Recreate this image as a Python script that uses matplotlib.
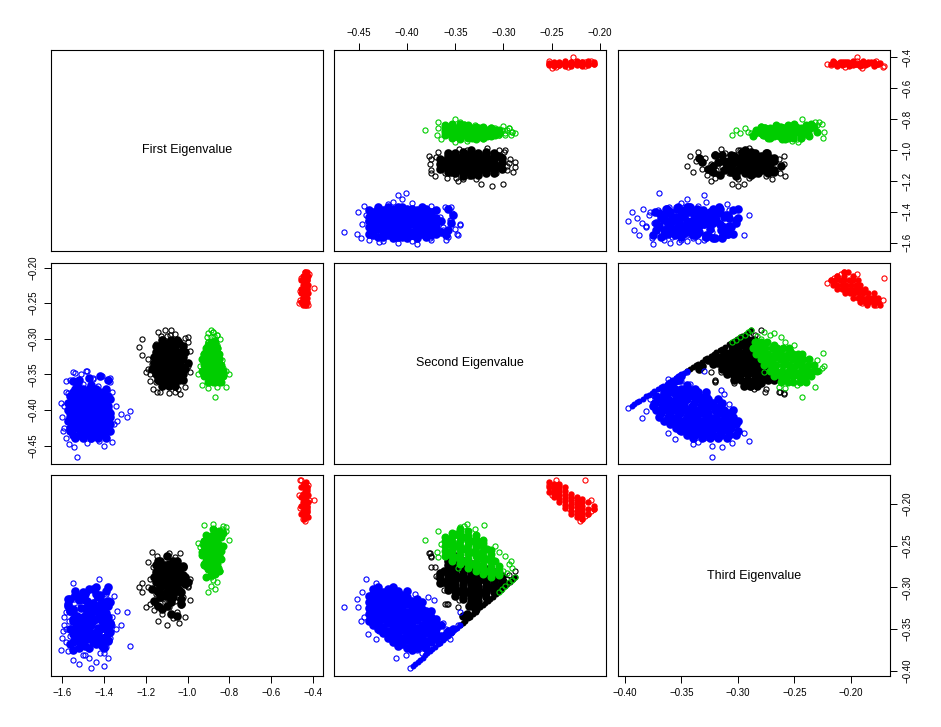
import numpy as np
import matplotlib
matplotlib.use('Agg')
import matplotlib.pyplot as plt

plt.rcParams['font.family'] = ['Liberation Sans', 'DejaVu Sans']

# points as (first, second, third) eigenvalue
# *_core stands in for the solid overplotted part of each cloud, drawn filled
blue_core = [
    (-1.50, -0.440, -0.340), (-1.43, -0.440, -0.325), (-1.54, -0.440, -0.310),
    (-1.47, -0.435, -0.345), (-1.40, -0.435, -0.330), (-1.52, -0.435, -0.315), (-1.45, -0.435, -0.302),
    (-1.56, -0.430, -0.350), (-1.41, -0.430, -0.333), (-1.48, -0.430, -0.316), (-1.38, -0.430, -0.300),
    (-1.44, -0.425, -0.355), (-1.53, -0.425, -0.338), (-1.39, -0.425, -0.322), (-1.50, -0.425, -0.306),
    (-1.46, -0.420, -0.360), (-1.37, -0.420, -0.343), (-1.55, -0.420, -0.326), (-1.42, -0.420, -0.309),
    (-1.52, -0.415, -0.365), (-1.40, -0.415, -0.348), (-1.47, -0.415, -0.331), (-1.57, -0.415, -0.314), (-1.44, -0.415, -0.300),
    (-1.41, -0.410, -0.370), (-1.50, -0.410, -0.353), (-1.38, -0.410, -0.336), (-1.45, -0.410, -0.319), (-1.54, -0.410, -0.304),
    (-1.56, -0.405, -0.368), (-1.43, -0.405, -0.351), (-1.49, -0.405, -0.334), (-1.37, -0.405, -0.317),
    (-1.47, -0.400, -0.372), (-1.38, -0.400, -0.363), (-1.53, -0.400, -0.346), (-1.42, -0.400, -0.329), (-1.50, -0.400, -0.312),
    (-1.55, -0.395, -0.375), (-1.44, -0.395, -0.358), (-1.39, -0.395, -0.341), (-1.48, -0.395, -0.324),
    (-1.40, -0.390, -0.373), (-1.51, -0.390, -0.356), (-1.46, -0.390, -0.339), (-1.57, -0.390, -0.322),
    (-1.49, -0.385, -0.370), (-1.37, -0.385, -0.353), (-1.54, -0.385, -0.336), (-1.43, -0.385, -0.326),
    (-1.52, -0.380, -0.372), (-1.45, -0.380, -0.355), (-1.41, -0.380, -0.340), (-1.56, -0.380, -0.328),
    (-1.42, -0.375, -0.365), (-1.55, -0.375, -0.350), (-1.48, -0.375, -0.335),
    (-1.50, -0.370, -0.362), (-1.39, -0.370, -0.350), (-1.44, -0.370, -0.338),
    (-1.46, -0.365, -0.358), (-1.53, -0.365, -0.345),
    (-1.46, -0.440, -0.332), (-1.39, -0.440, -0.318),
    (-1.55, -0.435, -0.338), (-1.43, -0.435, -0.322), (-1.49, -0.435, -0.308),
    (-1.37, -0.430, -0.342), (-1.51, -0.430, -0.325), (-1.44, -0.430, -0.308),
    (-1.41, -0.425, -0.347), (-1.48, -0.425, -0.330), (-1.56, -0.425, -0.314),
    (-1.51, -0.420, -0.352), (-1.42, -0.420, -0.335), (-1.39, -0.420, -0.318), (-1.47, -0.420, -0.302),
    (-1.45, -0.415, -0.357), (-1.55, -0.415, -0.340), (-1.38, -0.415, -0.322), (-1.50, -0.415, -0.307),
    (-1.48, -0.410, -0.362), (-1.37, -0.410, -0.345), (-1.56, -0.410, -0.328), (-1.42, -0.410, -0.311),
    (-1.40, -0.405, -0.360), (-1.52, -0.405, -0.343), (-1.46, -0.405, -0.326), (-1.54, -0.405, -0.309),
    (-1.44, -0.400, -0.355), (-1.49, -0.400, -0.338), (-1.57, -0.400, -0.320), (-1.39, -0.400, -0.304),
    (-1.42, -0.395, -0.367), (-1.53, -0.395, -0.350), (-1.47, -0.395, -0.333), (-1.38, -0.395, -0.316),
    (-1.55, -0.390, -0.365), (-1.43, -0.390, -0.348), (-1.39, -0.390, -0.331), (-1.50, -0.390, -0.314),
    (-1.41, -0.385, -0.362), (-1.52, -0.385, -0.345), (-1.46, -0.385, -0.331), (-1.38, -0.385, -0.318),
    (-1.38, -0.380, -0.364), (-1.50, -0.380, -0.348), (-1.47, -0.380, -0.334),
    (-1.51, -0.375, -0.358), (-1.40, -0.375, -0.343), (-1.45, -0.375, -0.328),
    (-1.54, -0.370, -0.356), (-1.47, -0.370, -0.344),
    (-1.47, -0.355, -0.352), (-1.42, -0.352, -0.350), (-1.52, -0.358, -0.352), (-1.55, -0.360, -0.356), (-1.38, -0.358, -0.354),
    (-1.42, -0.412, -0.322), (-1.52, -0.418, -0.312), (-1.46, -0.425, -0.320), (-1.49, -0.405, -0.315),
    (-1.40, -0.418, -0.325), (-1.55, -0.395, -0.328), (-1.43, -0.405, -0.330), (-1.50, -0.432, -0.335),
    (-1.46, -0.398, -0.345), (-1.52, -0.408, -0.338), (-1.43, -0.428, -0.312), (-1.47, -0.435, -0.322),
    (-1.41, -0.398, -0.318), (-1.53, -0.420, -0.334), (-1.40, -0.388, -0.360), (-1.44, -0.382, -0.368),
    (-1.48, -0.402, -0.360), (-1.51, -0.412, -0.356), (-1.54, -0.395, -0.362), (-1.45, -0.410, -0.340),
    (-1.45, -0.392, -0.365), (-1.43, -0.400, -0.355), (-1.47, -0.410, -0.345), (-1.42, -0.415, -0.335),
]
blue_rim = [
    (-1.529, -0.4655, -0.323), (-1.290, -0.410, -0.330), (-1.277, -0.401, -0.370), (-1.316, -0.4055, -0.345),
    (-1.335, -0.415, -0.328), (-1.400, -0.451, -0.323), (-1.544, -0.452, -0.314), (-1.568, -0.448, -0.340),
    (-1.607, -0.390, -0.375), (-1.484, -0.345, -0.330), (-1.548, -0.347, -0.345), (-1.594, -0.429, -0.352),
    (-1.423, -0.443, -0.290), (-1.46, -0.441, -0.356), (-1.50, -0.401, -0.381), (-1.44, -0.372, -0.315),
    (-1.52, -0.363, -0.342), (-1.58, -0.440, -0.330), (-1.59, -0.425, -0.345), (-1.60, -0.410, -0.360),
    (-1.36, -0.445, -0.335), (-1.35, -0.420, -0.310), (-1.34, -0.395, -0.350), (-1.36, -0.375, -0.345),
    (-1.59, -0.395, -0.335), (-1.58, -0.375, -0.365), (-1.58, -0.360, -0.350), (-1.48, -0.447, -0.305),
    (-1.55, -0.432, -0.295), (-1.41, -0.432, -0.362), (-1.47, -0.412, -0.385), (-1.40, -0.385, -0.378),
    (-1.37, -0.355, -0.355), (-1.45, -0.356, -0.362), (-1.39, -0.392, -0.308), (-1.51, -0.378, -0.312),
]
blue_line_v = [-0.397, -0.394, -0.392, -0.389, -0.387, -0.384, -0.381, -0.379, -0.376, -0.374, -0.371,
               -0.368, -0.366, -0.363, -0.361, -0.358, -0.355, -0.353, -0.350, -0.348, -0.345]
blue_line_e1 = [-1.46, -1.40, -1.52, -1.44, -1.55, -1.38, -1.49, -1.42, -1.57, -1.47, -1.39,
                -1.53, -1.43, -1.50, -1.37, -1.56, -1.45, -1.41, -1.51, -1.54, -1.48]

black_core = [
    (-1.05, -0.302, -0.296), (-1.12, -0.302, -0.286),
    (-1.09, -0.310, -0.305), (-1.02, -0.310, -0.293), (-1.15, -0.310, -0.282),
    (-1.07, -0.318, -0.312), (-1.13, -0.318, -0.300), (-1.01, -0.318, -0.288), (-1.10, -0.318, -0.278),
    (-1.16, -0.326, -0.316), (-1.04, -0.326, -0.304), (-1.11, -0.326, -0.292), (-1.06, -0.326, -0.280),
    (-1.08, -0.334, -0.318), (-1.14, -0.334, -0.306), (-1.00, -0.334, -0.294), (-1.12, -0.334, -0.282), (-1.05, -0.334, -0.272),
    (-1.03, -0.342, -0.314), (-1.17, -0.342, -0.302), (-1.09, -0.342, -0.290), (-1.13, -0.342, -0.278), (-1.07, -0.342, -0.268),
    (-1.11, -0.350, -0.310), (-1.06, -0.350, -0.298), (-1.15, -0.350, -0.286), (-1.02, -0.350, -0.274), (-1.10, -0.350, -0.262),
    (-1.04, -0.358, -0.303), (-1.12, -0.358, -0.291), (-1.08, -0.358, -0.279), (-1.14, -0.358, -0.268),
    (-1.09, -0.366, -0.295), (-1.06, -0.366, -0.283),
    (-1.08, -0.302, -0.291),
    (-1.13, -0.310, -0.299), (-1.06, -0.310, -0.288),
    (-1.03, -0.318, -0.306), (-1.15, -0.318, -0.294), (-1.08, -0.318, -0.283),
    (-1.10, -0.326, -0.310), (-1.07, -0.326, -0.298), (-1.14, -0.326, -0.286), (-1.02, -0.326, -0.275),
    (-1.13, -0.334, -0.312), (-1.05, -0.334, -0.300), (-1.16, -0.334, -0.288), (-1.09, -0.334, -0.277),
    (-1.12, -0.342, -0.308), (-1.01, -0.342, -0.296), (-1.06, -0.342, -0.284), (-1.15, -0.342, -0.273),
    (-1.14, -0.350, -0.304), (-1.09, -0.350, -0.292), (-1.04, -0.350, -0.280), (-1.13, -0.350, -0.268),
    (-1.07, -0.358, -0.297), (-1.02, -0.358, -0.285), (-1.11, -0.358, -0.273),
    (-1.12, -0.366, -0.289),
    (-1.08, -0.338, -0.332), (-1.12, -0.330, -0.326), (-1.05, -0.342, -0.334), (-1.14, -0.336, -0.322),
    (-1.03, -0.330, -0.320), (-1.10, -0.326, -0.322),
    (-1.10, -0.306, -0.298), (-1.04, -0.306, -0.287),
    (-1.06, -0.314, -0.300), (-1.11, -0.314, -0.286),
    (-1.09, -0.322, -0.306), (-1.05, -0.322, -0.290), (-1.12, -0.322, -0.276),
    (-1.07, -0.330, -0.308), (-1.13, -0.330, -0.292), (-1.04, -0.330, -0.276),
    (-1.10, -0.338, -0.306), (-1.03, -0.338, -0.290), (-1.08, -0.338, -0.274),
    (-1.05, -0.346, -0.304), (-1.12, -0.346, -0.288), (-1.09, -0.346, -0.272),
    (-1.08, -0.354, -0.300), (-1.14, -0.354, -0.284), (-1.05, -0.354, -0.268),
    (-1.10, -0.362, -0.294), (-1.07, -0.362, -0.280),
]
black_rim = [
    (-1.109, -0.2875, -0.280), (-1.219, -0.300, -0.295), (-1.038, -0.3775, -0.259), (-1.148, -0.375, -0.263),
    (-1.167, -0.371, -0.275), (-1.044, -0.370, -0.286), (-1.180, -0.359, -0.320), (-1.232, -0.312, -0.300),
    (-0.986, -0.317, -0.290), (-1.012, -0.299, -0.292), (-1.083, -0.294, -0.285), (-1.128, -0.296, -0.290),
    (-1.219, -0.323, -0.305), (-1.187, -0.342, -0.300), (-1.180, -0.349, -0.290), (-1.025, -0.358, -0.320),
    (-0.999, -0.338, -0.300), (-1.200, -0.347, -0.324), (-1.150, -0.361, -0.320), (-1.100, -0.362, -0.303),
    (-1.060, -0.375, -0.264), (-1.090, -0.376, -0.259), (-1.130, -0.375, -0.276), (-1.010, -0.368, -0.288),
    (-0.990, -0.346, -0.315), (-1.190, -0.328, -0.270), (-1.000, -0.305, -0.294), (-1.170, -0.336, -0.258),
]
black_line_v = [-0.345, -0.342, -0.340, -0.337, -0.335, -0.332, -0.329, -0.327, -0.324, -0.321, -0.319, -0.316,
                -0.314, -0.311, -0.308, -0.306, -0.303, -0.301, -0.298, -0.296, -0.293, -0.290, -0.288]
black_line_e1 = [-1.10, -1.04, -1.14, -1.07, -1.01, -1.12, -1.05, -1.16, -1.09, -1.03, -1.13, -1.06,
                 -1.11, -1.02, -1.15, -1.08, -1.04, -1.12, -1.00, -1.10, -1.06, -1.14, -1.08]

green_core = [
    (-0.89, -0.305, -0.285), (-0.87, -0.305, -0.274),
    (-0.91, -0.313, -0.287), (-0.86, -0.313, -0.276), (-0.88, -0.313, -0.265), (-0.90, -0.313, -0.255),
    (-0.87, -0.321, -0.284), (-0.92, -0.321, -0.273), (-0.85, -0.321, -0.262), (-0.89, -0.321, -0.251), (-0.90, -0.321, -0.243),
    (-0.85, -0.329, -0.280), (-0.88, -0.329, -0.269), (-0.93, -0.329, -0.258), (-0.86, -0.329, -0.247), (-0.91, -0.329, -0.237),
    (-0.90, -0.337, -0.277), (-0.84, -0.337, -0.266), (-0.87, -0.337, -0.255), (-0.92, -0.337, -0.244), (-0.85, -0.337, -0.233),
    (-0.86, -0.345, -0.272), (-0.93, -0.345, -0.261), (-0.83, -0.345, -0.250), (-0.89, -0.345, -0.239), (-0.88, -0.345, -0.230),
    (-0.91, -0.353, -0.268), (-0.85, -0.353, -0.257), (-0.88, -0.353, -0.246), (-0.83, -0.353, -0.235),
    (-0.87, -0.361, -0.262), (-0.90, -0.361, -0.251), (-0.85, -0.361, -0.240),
    (-0.88, -0.305, -0.280),
    (-0.88, -0.313, -0.281), (-0.90, -0.313, -0.270), (-0.86, -0.313, -0.260),
    (-0.90, -0.321, -0.278), (-0.86, -0.321, -0.267), (-0.92, -0.321, -0.256), (-0.87, -0.321, -0.247),
    (-0.91, -0.329, -0.274), (-0.85, -0.329, -0.263), (-0.89, -0.329, -0.252), (-0.87, -0.329, -0.242),
    (-0.88, -0.337, -0.271), (-0.91, -0.337, -0.260), (-0.85, -0.337, -0.249), (-0.89, -0.337, -0.238),
    (-0.89, -0.345, -0.266), (-0.86, -0.345, -0.255), (-0.92, -0.345, -0.244), (-0.85, -0.345, -0.234),
    (-0.86, -0.353, -0.262), (-0.92, -0.353, -0.251), (-0.87, -0.353, -0.240),
    (-0.84, -0.361, -0.256), (-0.88, -0.361, -0.245),
    (-0.87, -0.309, -0.281), (-0.90, -0.309, -0.268),
    (-0.89, -0.317, -0.280), (-0.87, -0.317, -0.266), (-0.91, -0.317, -0.254),
    (-0.86, -0.325, -0.276), (-0.90, -0.325, -0.262), (-0.88, -0.325, -0.248),
    (-0.92, -0.333, -0.272), (-0.86, -0.333, -0.258), (-0.89, -0.333, -0.244),
    (-0.87, -0.341, -0.268), (-0.90, -0.341, -0.254), (-0.84, -0.341, -0.240),
    (-0.91, -0.349, -0.264), (-0.87, -0.349, -0.250), (-0.86, -0.349, -0.236),
    (-0.89, -0.357, -0.258), (-0.86, -0.357, -0.244),
]
green_rim = [
    (-0.869, -0.382, -0.243), (-0.880, -0.291, -0.277), (-0.900, -0.292, -0.268), (-0.860, -0.294, -0.272),
    (-0.905, -0.298, -0.262), (-0.845, -0.300, -0.280), (-0.872, -0.296, -0.283), (-0.940, -0.338, -0.252),
    (-0.800, -0.350, -0.243), (-0.815, -0.345, -0.228), (-0.950, -0.350, -0.247), (-0.830, -0.341, -0.226),
    (-0.815, -0.368, -0.232), (-0.900, -0.369, -0.258), (-0.860, -0.368, -0.264), (-0.930, -0.365, -0.248),
    (-0.850, -0.347, -0.277), (-0.920, -0.320, -0.225), (-0.880, -0.338, -0.224), (-0.900, -0.305, -0.258),
    (-0.860, -0.309, -0.250), (-0.835, -0.330, -0.230),
]
green_line_v = [-0.305, -0.302, -0.298, -0.294, -0.291, -0.288]
green_line_e1 = [-0.90, -0.87, -0.89, -0.86, -0.88, -0.89]

red_core = [
    (-0.440, -0.206, -0.206), (-0.430, -0.206, -0.203),
    (-0.450, -0.212, -0.212), (-0.435, -0.212, -0.206), (-0.425, -0.212, -0.198),
    (-0.445, -0.218, -0.218), (-0.430, -0.218, -0.210), (-0.455, -0.218, -0.202), (-0.440, -0.218, -0.194),
    (-0.425, -0.224, -0.216), (-0.450, -0.224, -0.208), (-0.435, -0.224, -0.200), (-0.445, -0.224, -0.192),
    (-0.455, -0.230, -0.212), (-0.430, -0.230, -0.204), (-0.440, -0.230, -0.196), (-0.450, -0.230, -0.188),
    (-0.435, -0.236, -0.205), (-0.445, -0.236, -0.197), (-0.425, -0.236, -0.189), (-0.455, -0.236, -0.180),
    (-0.440, -0.242, -0.198), (-0.450, -0.242, -0.190), (-0.430, -0.242, -0.182), (-0.445, -0.242, -0.176),
    (-0.455, -0.248, -0.192), (-0.435, -0.248, -0.184), (-0.445, -0.248, -0.176),
    (-0.440, -0.253, -0.186), (-0.450, -0.253, -0.180), (-0.435, -0.253, -0.174),
    (-0.440, -0.218, -0.214), (-0.430, -0.218, -0.206), (-0.450, -0.218, -0.198),
    (-0.445, -0.224, -0.212), (-0.435, -0.224, -0.204), (-0.440, -0.224, -0.196),
    (-0.430, -0.230, -0.208), (-0.445, -0.230, -0.200), (-0.435, -0.230, -0.192),
    (-0.450, -0.236, -0.201), (-0.440, -0.236, -0.193), (-0.430, -0.236, -0.185),
    (-0.445, -0.242, -0.194), (-0.435, -0.242, -0.186), (-0.450, -0.242, -0.179),
    (-0.440, -0.248, -0.188), (-0.430, -0.248, -0.180),
]
red_rim = [
    (-0.467, -0.250, -0.190), (-0.395, -0.228, -0.195), (-0.460, -0.245, -0.172), (-0.420, -0.209, -0.195),
    (-0.455, -0.215, -0.171), (-0.460, -0.233, -0.205), (-0.425, -0.253, -0.178),
]
red_line_v = [-0.221, -0.218, -0.215, -0.212, -0.209, -0.206]
red_line_e1 = [-0.440, -0.450, -0.430, -0.445, -0.435, -0.440]

labels = ['First Eigenvalue', 'Second Eigenvalue', 'Third Eigenvalue']
limits = [(-1.653, -0.352), (-0.476, -0.1935), (-0.406, -0.1655)]
ticks = [[-1.6, -1.4, -1.2, -1.0, -0.8, -0.6, -0.4],
         [-0.45, -0.40, -0.35, -0.30, -0.25, -0.20],
         [-0.40, -0.35, -0.30, -0.25, -0.20]]
fmt = ['%.1f', '%.2f', '%.2f']

col_left = [51, 334, 618]
row_top = [50, 263, 475]
panel_w = 272
panel_h = 201
W, H = 941, 727

# drawn in this order: black, green, blue, red, last number is the filled marker size
groups = [
    ('black', black_core, black_rim, black_line_v, black_line_e1, 6.2),
    ('#00CD00', green_core, green_rim, green_line_v, green_line_e1, 5.8),
    ('blue', blue_core, blue_rim, blue_line_v, blue_line_e1, 6.2),
    ('red', red_core, red_rim, red_line_v, red_line_e1, 4.6),
]

fig = plt.figure(figsize=(9.41, 7.27), dpi=100)
for r in range(3):
    for c in range(3):
        ax = fig.add_axes([col_left[c] / W, 1 - (row_top[r] + panel_h) / H, panel_w / W, panel_h / H])
        ax.set_xlim(limits[c])
        ax.set_ylim(limits[r])
        ax.set_xticks([])
        ax.set_yticks([])
        for s in ax.spines.values():
            s.set_linewidth(0.8)
        if r == c:
            ax.text(0.5, 0.5, labels[r], transform=ax.transAxes, ha='center', va='center', fontsize=9)
        else:
            for color, core, rim, line_v, line_e1, core_ms in groups:
                core_pts = np.array(core)
                rim_pts = np.array(rim)
                line_pts = np.column_stack([line_e1, line_v, line_v])
                ax.plot(core_pts[:, c], core_pts[:, r], 'o', color=color, ms=core_ms, mew=0)
                ax.plot(rim_pts[:, c], rim_pts[:, r], 'o', mfc='none', mec=color, ms=3.7, mew=0.8)
                # the long blue and black runs on e2 = e3 overlap into a solid band,
                # only where second and third are plotted against each other
                if len(line_v) > 10 and r > 0 and c > 0:
                    ax.plot(line_pts[1:, c], line_pts[1:, r], 'o', color=color, ms=4.3, mew=0)
                    ax.plot(line_pts[:1, c], line_pts[:1, r], 'o', mfc='none', mec=color, ms=3.7, mew=0.8)
                else:
                    ax.plot(line_pts[:, c], line_pts[:, r], 'o', mfc='none', mec=color, ms=3.7, mew=0.8)
        # outer axes alternate sides like pairs() in R
        if r == 2 and c != 1:
            ax.set_xticks(ticks[c])
            ax.set_xticklabels([(fmt[c] % t).replace('-', '\u2212') for t in ticks[c]])
        if r == 0 and c == 1:
            ax.xaxis.tick_top()
            ax.set_xticks(ticks[c])
            ax.set_xticklabels([(fmt[c] % t).replace('-', '\u2212') for t in ticks[c]])
        if c == 0 and r == 1:
            ax.set_yticks(ticks[r])
            ax.set_yticklabels([(fmt[r] % t).replace('-', '\u2212') for t in ticks[r]], rotation=90, va='center')
        if c == 2 and r != 1:
            ax.yaxis.tick_right()
            ax.set_yticks(ticks[r])
            ax.set_yticklabels([(fmt[r] % t).replace('-', '\u2212') for t in ticks[r]], rotation=90, va='center')
        ax.tick_params(length=5, width=0.7, labelsize=7, pad=4)

fig.savefig('out.png', dpi=100)
